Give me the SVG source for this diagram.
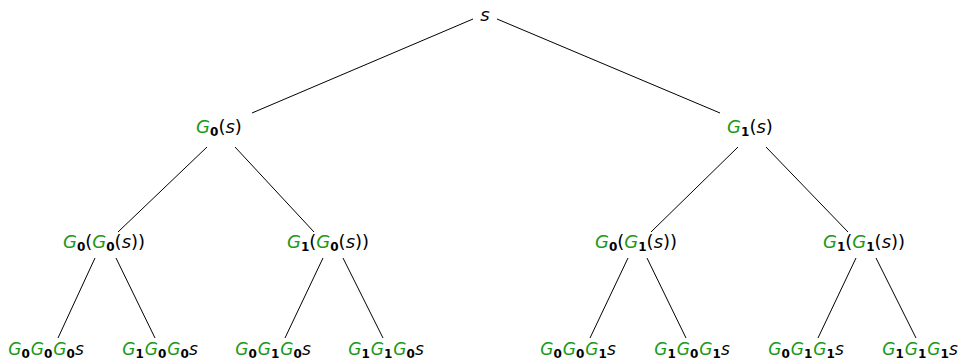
<svg xmlns="http://www.w3.org/2000/svg" width="967" height="363" viewBox="0 0 967 363">
<style>
text{font-family:"DejaVu Sans",sans-serif;font-size:18px;font-style:italic;fill:#000;text-anchor:middle}
text.leaf{font-size:17px}
.g{fill:#1a9a1a}
.n{font-style:normal}
.b{font-style:normal;font-weight:bold;font-size:12px}
line{stroke:#000;stroke-width:1}
</style>
<rect width="967" height="363" fill="#fff"/>
<g id="connectors">
<line x1="473" y1="19" x2="252" y2="113"/>
<line x1="497" y1="19" x2="720" y2="113"/>
<line x1="207" y1="147" x2="118" y2="232"/>
<line x1="235" y1="147" x2="314" y2="232"/>
<line x1="738" y1="147" x2="651" y2="232"/>
<line x1="766" y1="147" x2="848" y2="232"/>
<line x1="95" y1="258" x2="58" y2="338"/>
<line x1="116" y1="258" x2="155" y2="338"/>
<line x1="323" y1="258" x2="285" y2="338"/>
<line x1="343" y1="258" x2="383" y2="338"/>
<line x1="628" y1="258" x2="590" y2="338"/>
<line x1="647" y1="258" x2="686" y2="338"/>
<line x1="856" y1="258" x2="818" y2="338"/>
<line x1="876" y1="258" x2="916" y2="338"/>
</g>
<g id="n_root"><text x="485" y="21">s</text></g>
<g id="n_0"><text x="219" y="133"><tspan class="g">G</tspan><tspan class="b" dy="3">0</tspan><tspan class="n" dy="-3">(</tspan>s<tspan class="n">)</tspan></text></g>
<g id="n_1"><text x="750" y="133"><tspan class="g">G</tspan><tspan class="b" dy="3">1</tspan><tspan class="n" dy="-3">(</tspan>s<tspan class="n">)</tspan></text></g>
<g id="n_00"><text x="104" y="248"><tspan class="g">G</tspan><tspan class="b" dy="3">0</tspan><tspan class="n" dy="-3">(</tspan><tspan class="g">G</tspan><tspan class="b" dy="3">0</tspan><tspan class="n" dy="-3">(</tspan>s<tspan class="n">))</tspan></text></g>
<g id="n_10"><text x="328" y="248"><tspan class="g">G</tspan><tspan class="b" dy="3">1</tspan><tspan class="n" dy="-3">(</tspan><tspan class="g">G</tspan><tspan class="b" dy="3">0</tspan><tspan class="n" dy="-3">(</tspan>s<tspan class="n">))</tspan></text></g>
<g id="n_01"><text x="636" y="248"><tspan class="g">G</tspan><tspan class="b" dy="3">0</tspan><tspan class="n" dy="-3">(</tspan><tspan class="g">G</tspan><tspan class="b" dy="3">1</tspan><tspan class="n" dy="-3">(</tspan>s<tspan class="n">))</tspan></text></g>
<g id="n_11"><text x="864" y="248"><tspan class="g">G</tspan><tspan class="b" dy="3">1</tspan><tspan class="n" dy="-3">(</tspan><tspan class="g">G</tspan><tspan class="b" dy="3">1</tspan><tspan class="n" dy="-3">(</tspan>s<tspan class="n">))</tspan></text></g>
<g id="n_000"><text class="leaf" x="46" y="355"><tspan class="g">G</tspan><tspan class="b" dy="3">0</tspan><tspan class="g" dy="-3" dx="1">G</tspan><tspan class="b" dy="3">0</tspan><tspan class="g" dy="-3" dx="1">G</tspan><tspan class="b" dy="3">0</tspan><tspan dy="-3">s</tspan></text></g>
<g id="n_100"><text class="leaf" x="160" y="355"><tspan class="g">G</tspan><tspan class="b" dy="3">1</tspan><tspan class="g" dy="-3" dx="1">G</tspan><tspan class="b" dy="3">0</tspan><tspan class="g" dy="-3" dx="1">G</tspan><tspan class="b" dy="3">0</tspan><tspan dy="-3">s</tspan></text></g>
<g id="n_010"><text class="leaf" x="273" y="355"><tspan class="g">G</tspan><tspan class="b" dy="3">0</tspan><tspan class="g" dy="-3" dx="1">G</tspan><tspan class="b" dy="3">1</tspan><tspan class="g" dy="-3" dx="1">G</tspan><tspan class="b" dy="3">0</tspan><tspan dy="-3">s</tspan></text></g>
<g id="n_110"><text class="leaf" x="386" y="355"><tspan class="g">G</tspan><tspan class="b" dy="3">1</tspan><tspan class="g" dy="-3" dx="1">G</tspan><tspan class="b" dy="3">1</tspan><tspan class="g" dy="-3" dx="1">G</tspan><tspan class="b" dy="3">0</tspan><tspan dy="-3">s</tspan></text></g>
<g id="n_001"><text class="leaf" x="578" y="355"><tspan class="g">G</tspan><tspan class="b" dy="3">0</tspan><tspan class="g" dy="-3" dx="1">G</tspan><tspan class="b" dy="3">0</tspan><tspan class="g" dy="-3" dx="1">G</tspan><tspan class="b" dy="3">1</tspan><tspan dy="-3">s</tspan></text></g>
<g id="n_101"><text class="leaf" x="692" y="355"><tspan class="g">G</tspan><tspan class="b" dy="3">1</tspan><tspan class="g" dy="-3" dx="1">G</tspan><tspan class="b" dy="3">0</tspan><tspan class="g" dy="-3" dx="1">G</tspan><tspan class="b" dy="3">1</tspan><tspan dy="-3">s</tspan></text></g>
<g id="n_011"><text class="leaf" x="806" y="355"><tspan class="g">G</tspan><tspan class="b" dy="3">0</tspan><tspan class="g" dy="-3" dx="1">G</tspan><tspan class="b" dy="3">1</tspan><tspan class="g" dy="-3" dx="1">G</tspan><tspan class="b" dy="3">1</tspan><tspan dy="-3">s</tspan></text></g>
<g id="n_111"><text class="leaf" x="920" y="355"><tspan class="g">G</tspan><tspan class="b" dy="3">1</tspan><tspan class="g" dy="-3" dx="1">G</tspan><tspan class="b" dy="3">1</tspan><tspan class="g" dy="-3" dx="1">G</tspan><tspan class="b" dy="3">1</tspan><tspan dy="-3">s</tspan></text></g>
</svg>
